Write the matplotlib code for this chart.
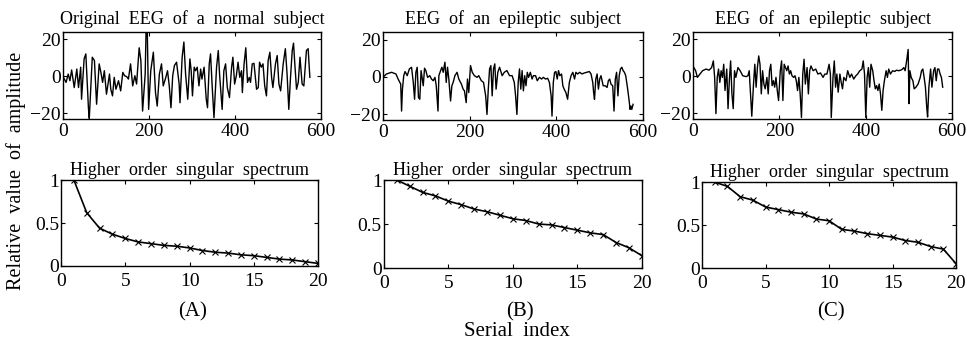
import matplotlib
matplotlib.use("Agg")
import matplotlib.pyplot as plt

plt.rcParams["font.family"] = ["Liberation Serif", "DejaVu Serif"]

eeg_normal = [
    (1, -0.5), (7, -3.2), (12, 1.3), (16, -2.3), (20, 3.5), (26, -6.0), (32, 4.0),
    (36, -6.0), (41, 5.0), (43, -12.3), (49, 9.5), (53, 12.2), (59, -16.9), (61, -22.7),
    (68, 10.4), (73, 8.6), (78, -15.0), (84, 6.8), (88, 2.2), (92, -3.2), (96, 3.1),
    (101, -9.6), (108, 1.3), (111, -6.9), (115, -10.5), (119, -0.5), (123, -6.9),
    (129, -2.3), (134, -7.8), (139, 2.2), (143, 0.4), (148, -0.1), (152, -1.4),
    (157, 6.8), (162, -5.1), (167, 0.4), (171, -4.1), (177, 15.5), (181, 8.6),
    (185, -18.7), (191, 1.3), (193, 24.0), (196, 23.2), (199, -17.8), (204, 3.1),
    (210, 13.1), (215, -8.7), (219, -16.0), (224, 1.3), (229, 6.8), (233, -5.1),
    (239, -0.5), (243, 3.1), (247, -5.1), (251, -16.9), (255, 0.4), (259, 5.9),
    (264, 7.7), (270, -4.1), (272, -14.2), (277, 10.4), (281, 18.6), (285, 1.3),
    (290, -12.3), (295, 9.5), (298, 3.1), (301, -10.5), (305, 5.0), (308, 3.1),
    (312, 5.0), (316, -5.1), (320, 4.0), (323, -1.4), (328, 5.0), (333, -12.3),
    (336, -16.9), (340, 6.8), (343, 12.2), (347, -6.0), (351, -22.3), (357, 5.0),
    (361, 14.0), (364, 1.3), (370, -17.8), (374, 3.1), (378, 6.8), (382, -6.0),
    (387, -11.4), (392, 5.0), (395, 10.4), (399, -4.1), (403, 0.4), (407, 7.7),
    (411, -0.5), (415, 3.1), (417, -8.7), (421, 6.8), (425, 15.5), (429, -3.2),
    (433, -0.5), (436, -3.2), (440, 6.8), (444, 7.1), (450, -6.9), (454, -6.0),
    (457, 7.7), (461, 5.0), (465, 6.8), (469, -5.1), (473, -10.5), (477, 8.6),
    (481, 13.1), (485, -0.5), (488, -6.0), (494, 6.8), (498, 11.3), (502, -4.1),
    (506, -7.8), (512, 6.8), (517, 15.0), (521, 1.3), (525, -17.8), (529, -0.5),
    (533, 14.0), (536, 18.0), (539, 6.8), (543, -6.9), (547, -3.2), (551, 10.4),
    (556, -4.1), (560, -5.1), (566, 14.0), (570, 15.0), (574, -0.5)]

eeg_epileptic_b = [
    (0, -0.2), (8, 1.6), (20, 2.5), (30, 1.6), (35, -1.1), (41, -3.8), (43, -18.2),
    (45, -6.5), (48, 0.7), (51, 2.9), (56, 0.7), (61, 4.3), (66, 5.2), (70, -2.9),
    (73, -11.9), (76, 2.5), (79, 5.2), (82, -11.0), (85, -11.9), (88, 3.4), (93, -4.7),
    (96, 4.7), (99, 3.4), (103, -0.2), (108, 0.7), (112, -1.1), (116, -2.0), (120, -0.2),
    (123, -4.7), (127, -18.2), (129, 0.7), (133, 3.4), (136, 5.2), (139, 2.5),
    (143, 7.9), (146, -2.9), (149, 5.2), (152, -1.1), (156, -12.8), (159, -4.7),
    (162, -2.9), (166, 0.7), (171, 2.5), (175, -1.1), (181, -3.8), (185, -6.5),
    (188, -7.4), (192, -13.7), (195, -1.1), (198, -8.3), (202, 6.1), (206, 2.5),
    (211, 0.7), (217, -0.2), (221, 0.7), (227, -2.0), (232, -2.9), (237, -10.1),
    (240, -20.0), (243, -6.5), (246, 4.3), (249, 6.1), (252, -10.1), (255, 4.3),
    (258, 7.0), (261, -6.5), (265, 2.5), (269, 5.2), (275, 0.7), (280, 2.5), (286, 3.4),
    (292, 0.7), (298, 0.7), (303, -2.9), (306, -10.1), (309, -20.0), (312, -2.9),
    (315, 4.3), (318, -6.5), (321, 3.4), (324, -7.4), (327, 0.7), (330, -4.7),
    (333, 2.5), (336, -0.2), (340, 2.5), (344, -1.1), (347, 0.7), (352, 0.7),
    (356, -2.0), (361, -0.2), (366, -1.1), (370, -0.2), (375, -1.1), (380, -0.7),
    (384, -2.9), (388, -10.1), (390, -20.9), (393, -2.9), (396, 2.5), (399, 2.9),
    (402, -1.1), (405, 3.4), (408, 0.7), (412, 1.6), (415, -4.7), (418, -6.5),
    (422, -8.3), (426, -11.9), (430, -2.9), (434, 0.7), (438, 2.5), (442, -1.1),
    (445, 2.5), (449, 1.6), (454, 2.5), (459, 1.6), (464, 2.1), (470, 2.5), (476, 2.9),
    (480, 1.6), (484, -2.9), (486, -8.3), (488, -11.9), (491, -1.1), (494, 1.6),
    (497, -6.5), (500, -1.1), (503, 0.7), (508, -4.7), (513, -4.7), (517, -5.6),
    (520, -2.0), (523, -1.1), (526, -3.8), (530, -4.7), (533, -18.2), (536, -1.1),
    (539, 2.5), (542, -10.1), (545, 0.7), (548, 4.3), (551, 5.2), (554, 3.4),
    (557, 2.5), (560, 0.7), (564, -5.6), (568, -12.8), (570, -17.3), (572, -15.5),
    (574, -17.3), (577, -14.6)]

eeg_epileptic_c = [
    (2, 4.8), (6, 3.1), (10, -0.5), (16, 1.3), (22, 3.1), (30, 4.0), (37, 3.4), (43, 4.8),
    (47, 8.4), (50, -0.5), (53, -20.1), (56, -0.5), (59, 4.0), (62, -3.2), (65, 3.1),
    (68, -0.5), (71, 6.6), (74, -7.6), (78, 4.0), (81, -17.4), (84, -2.3), (87, 8.4),
    (90, -9.4), (93, -17.4), (96, 3.1), (99, -0.5), (104, 4.8), (109, 3.1), (115, 0.4),
    (123, -0.1), (127, 0.4), (130, 3.1), (133, -9.4), (136, -21.5), (140, -4.1),
    (143, 6.6), (146, -5.8), (149, 4.8), (152, 11.1), (155, 6.6), (158, -9.4),
    (161, 3.1), (164, -4.1), (167, -6.7), (171, -0.5), (174, -9.4), (177, 3.1),
    (180, 6.6), (183, -5.0), (186, -2.3), (189, -5.8), (192, -0.5), (195, -7.6),
    (198, -13.0), (202, 3.1), (205, 8.4), (208, -13.0), (211, 6.6), (214, 4.8),
    (217, 3.1), (220, 5.7), (223, 1.3), (226, 3.1), (229, 0.4), (233, -0.5), (236, 0.4),
    (239, -2.3), (242, -7.6), (245, -0.5), (248, -9.4), (251, -22.2), (254, 1.3),
    (257, 9.3), (260, -4.1), (264, 4.8), (267, -9.4), (270, 3.1), (273, 5.7), (278, 3.1),
    (284, 4.0), (289, 1.3), (295, 1.9), (301, -0.5), (305, 1.3), (310, 1.3), (315, 6.6),
    (318, 1.3), (320, -22.2), (324, -0.5), (327, 8.4), (330, -5.8), (333, 1.3),
    (336, -8.5), (340, 1.3), (343, -3.2), (346, -6.7), (349, -0.5), (354, -2.3),
    (358, 3.1), (363, -0.5), (367, 1.3), (372, -1.4), (377, 0.4), (381, 1.3), (386, 3.1),
    (391, 4.0), (394, 8.4), (397, 1.3), (400, -22.2), (403, -0.5), (406, 4.8),
    (409, -5.8), (412, 6.6), (416, 3.1), (419, -2.3), (422, -6.7), (425, -5.0),
    (428, -7.6), (431, -4.1), (434, -9.4), (437, -18.3), (440, -7.6), (443, -2.3),
    (447, 3.1), (450, -0.5), (453, 4.0), (457, 1.3), (462, 3.1), (467, 2.7), (471, 3.4),
    (476, 3.1), (481, 3.4), (485, 4.0), (488, 4.8), (491, 3.1), (495, 9.3), (498, 14.6),
    (500, -14.7), (502, 3.1), (505, -0.5), (509, -2.3), (512, -6.7), (516, -5.8),
    (521, -4.1), (526, -0.5), (529, 3.1), (532, 4.0), (535, -0.5), (538, -5.8),
    (541, -16.5), (543, -21.9), (546, -5.8), (550, 4.0), (553, -5.8), (557, 3.1),
    (560, 4.8), (563, -2.3), (566, 4.0), (569, 4.0), (572, 1.3), (575, -0.5), (578, -5.8)]

# higher order singular spectrum, 20 values each
serial = list(range(1, 21))
spec_a = [1.0, 0.62, 0.44, 0.37, 0.32, 0.28, 0.26, 0.24, 0.23, 0.21, 0.18, 0.16, 0.15,
          0.13, 0.12, 0.10, 0.08, 0.07, 0.05, 0.03]
spec_b = [1.0, 0.93, 0.86, 0.82, 0.76, 0.72, 0.67, 0.64, 0.60, 0.56, 0.54, 0.50, 0.49,
          0.46, 0.43, 0.40, 0.38, 0.29, 0.23, 0.14]
spec_c = [1.0, 0.95, 0.83, 0.79, 0.71, 0.68, 0.65, 0.63, 0.57, 0.55, 0.45, 0.43, 0.40,
          0.38, 0.36, 0.32, 0.30, 0.25, 0.22, 0.05]

top_titles = ["Original  EEG  of  a  normal  subject",
              "EEG  of  an  epileptic  subject",
              "EEG  of  an  epileptic  subject"]
panel_tags = ["(A)", "(B)", "(C)"]

fig = plt.figure(figsize=(9.67, 3.41), dpi=100)

top_pos = [[0.0652, 0.651, 0.2668, 0.255],
           [0.396, 0.648, 0.269, 0.258],
           [0.7167, 0.651, 0.268, 0.255]]
bot_pos = [[0.0631, 0.220, 0.2658, 0.252],
           [0.397, 0.214, 0.2668, 0.258],
           [0.726, 0.214, 0.2627, 0.252]]

eeg = [eeg_normal, eeg_epileptic_b, eeg_epileptic_c]
spectra = [spec_a, spec_b, spec_c]


def style_axes(ax, xpad):
    ax.tick_params(direction="in", top=True, right=True, labelsize=14,
                   length=3, width=0.8, pad=1.5)
    ax.tick_params(axis="x", pad=xpad)
    for s in ax.spines.values():
        s.set_linewidth(1.0)


for i in range(3):
    xs, ys = zip(*eeg[i])
    ax = fig.add_axes(top_pos[i])
    ax.plot(xs, ys, color="black", linewidth=1.0)
    ax.set_xlim(0, 600)
    ax.set_ylim(-23, 24)
    ax.set_xticks([0, 200, 400, 600])
    ax.set_yticks([-20, 0, 20])
    ax.set_title(top_titles[i], fontsize=13, pad=5.5)
    style_axes(ax, 3)

    ax2 = fig.add_axes(bot_pos[i])
    ax2.plot(serial, spectra[i], color="black", linewidth=1.2,
             marker="x", markersize=4, markeredgewidth=0.8)
    ax2.set_xlim(0, 20)
    ax2.set_ylim(0, 1)
    ax2.set_xticks([0, 5, 10, 15, 20])
    ax2.set_yticks([0, 0.5, 1])
    ax2.set_yticklabels(["0", "0.5", "1"])
    ax2.set_title("Higher  order  singular  spectrum", fontsize=13, pad=3.5)
    style_axes(ax2, 5)

fig.text(0.017, 0.50, "Relative  value  of  amplitude", rotation=90,
         ha="center", va="center", fontsize=14.5)
tag_x = [0.1995, 0.538, 0.859]
for i in range(3):
    fig.text(tag_x[i], 0.085, panel_tags[i], ha="center", va="center", fontsize=15)
fig.text(0.535, 0.028, "Serial  index", ha="center", va="center", fontsize=15)

fig.savefig("out.png", dpi=100)
